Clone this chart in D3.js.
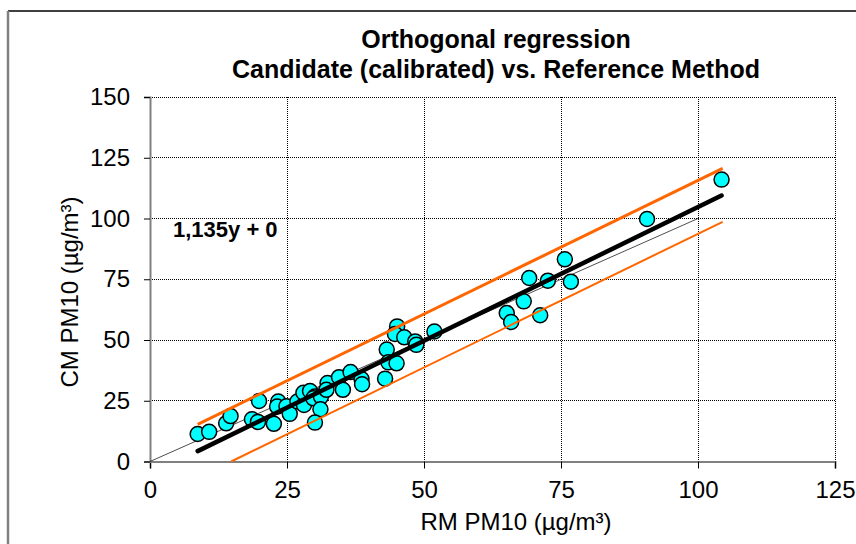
<!DOCTYPE html>
<html>
<head>
<meta charset="utf-8">
<script src="https://cdn.jsdelivr.net/npm/d3@7"></script>
<style>
  body { margin: 0; background: #fff; }
  text { font-family: "Liberation Sans", Arial, sans-serif; }
</style>
</head>
<body>
<svg id="chart"></svg>
<script>
// values
var rmValues = [8.7, 10.8, 13.9, 14.7, 18.6, 19.7, 19.9, 22.6, 23.4, 23.2, 24.9, 25.5, 26.9, 28.1, 28.0, 29.2,
                30.1, 29.8, 31.2, 31.1, 30.1, 32.4, 32.2, 34.5, 35.2, 36.6, 38.6, 38.7, 42.9, 43.2, 43.5, 45.0,
                45.1, 44.7, 46.4, 48.4, 48.6, 51.9, 65.1, 65.9, 68.2, 69.2, 71.2, 72.6, 75.7, 76.8, 90.7, 104.3];
var cmValues = [11.3, 12.2, 15.7, 18.7, 17.4, 16.3, 24.9, 15.5, 24.7, 22.6, 22.7, 19.6, 24.7, 23.3, 28.3, 29.0,
                26.7, 26.0, 26.7, 21.5, 16.0, 32.3, 29.5, 34.7, 29.5, 36.8, 33.9, 31.8, 34.1, 46.1, 40.8, 40.4,
                55.6, 52.5, 51.1, 49.4, 48.0, 53.5, 61.1, 57.4, 65.9, 75.5, 60.2, 74.4, 83.2, 74.0, 99.8, 116.0];
var xTicks = [0, 25, 50, 75, 100, 125];
var yTicks = [0, 25, 50, 75, 100, 125, 150];

var regSlope = 1.10;
var regIntercept = -5.3;
var bandOffset = 11;
var bandEndX = 104.5;
var identityEnd = 100;
var equationLabel = "1,135y + 0";

var width = 856, height = 544;
var margin = {top: 97, right: 21, bottom: 82.5, left: 150};

var svg = d3.select('#chart')
            .attr('width', width)
            .attr('height', height);

// outer chart frame
svg.append('line').attr('x1', 8).attr('x2', width).attr('y1', 11).attr('y2', 11)
   .attr('stroke', '#000').attr('stroke-width', 1.5);
svg.append('line').attr('x1', 8).attr('x2', 8).attr('y1', 11).attr('y2', height)
   .attr('stroke', '#808080').attr('stroke-width', 2.5);

var xScale = d3.scaleLinear().domain([0, 125]).range([margin.left, width - margin.right]);
var yScale = d3.scaleLinear().domain([0, 150]).range([height - margin.bottom, margin.top]);

// grid (dotted)
var grid = svg.append('g').attr('shape-rendering', 'crispEdges');
grid.selectAll('.vgrid').data(xTicks.slice(1))
    .enter().append('line')
    .attr('x1', d => xScale(d)).attr('x2', d => xScale(d))
    .attr('y1', yScale(0)).attr('y2', yScale(150))
    .attr('stroke', '#000').attr('stroke-width', 1).attr('stroke-dasharray', '1,1');
grid.selectAll('.hgrid').data(yTicks.slice(1))
    .enter().append('line')
    .attr('x1', xScale(0)).attr('x2', xScale(125))
    .attr('y1', d => yScale(d)).attr('y2', d => yScale(d))
    .attr('stroke', '#000').attr('stroke-width', 1).attr('stroke-dasharray', '1,1');

// axes
var xAxis = d3.axisBottom(xScale).tickValues(xTicks).tickSize(7).tickPadding(12);
var yAxis = d3.axisLeft(yScale).tickValues(yTicks).tickSize(6).tickPadding(14);

var gx = svg.append('g')
   .attr('transform', 'translate(0,' + yScale(0) + ')')
   .call(xAxis);
var gy = svg.append('g')
   .attr('transform', 'translate(' + xScale(0) + ',0)')
   .call(yAxis);

[gx, gy].forEach(function(g){
  g.select('.domain').attr('stroke', '#808080').attr('stroke-width', 2);
  g.selectAll('.tick line').attr('stroke', '#000').attr('stroke-width', 1);
  g.selectAll('.tick text').attr('fill', '#000')
   .style('font-family', '"Liberation Sans", Arial, sans-serif').style('font-size', '24px');
});

// 1:1 line
svg.append('line')
   .attr('x1', xScale(0)).attr('y1', yScale(0))
   .attr('x2', xScale(identityEnd)).attr('y2', yScale(identityEnd))
   .attr('stroke', '#000').attr('stroke-width', 0.7);

var xMin = d3.min(rmValues), xMax = d3.max(rmValues);
var reg = function(x){ return regSlope * x + regIntercept; };

// points
svg.selectAll('circle').data(rmValues)
   .enter().append('circle')
   .attr('cx', (d, i) => xScale(d))
   .attr('cy', (d, i) => yScale(cmValues[i]))
   .attr('r', 7.5)
   .attr('fill', '#00FFFF')
   .attr('stroke', '#000')
   .attr('stroke-width', 1.5);

// confidence band lines
svg.append('line')
   .attr('x1', xScale(xMin)).attr('y1', yScale(reg(xMin) + bandOffset))
   .attr('x2', xScale(bandEndX)).attr('y2', yScale(reg(bandEndX) + bandOffset))
   .attr('stroke', '#FF6600').attr('stroke-width', 3);
var lowStart = (bandOffset - regIntercept) / regSlope;
svg.append('line')
   .attr('x1', xScale(lowStart)).attr('y1', yScale(0))
   .attr('x2', xScale(bandEndX)).attr('y2', yScale(reg(bandEndX) - bandOffset))
   .attr('stroke', '#FF6600').attr('stroke-width', 2);

// regression line
svg.append('line')
   .attr('x1', xScale(xMin)).attr('y1', yScale(reg(xMin)))
   .attr('x2', xScale(xMax)).attr('y2', yScale(reg(xMax)))
   .attr('stroke', '#000').attr('stroke-width', 4.5).attr('stroke-linecap', 'round');

// equation
svg.append('text')
   .attr('x', 173).attr('y', 237)
   .style('font-size', '22px').style('font-weight', 'bold')
   .text(equationLabel);

// title
var title = svg.append('text').attr('text-anchor', 'middle')
   .style('font-size', '25px').style('font-weight', 'bold');
title.append('tspan').attr('x', 496).attr('y', 48).text('Orthogonal regression');
title.append('tspan').attr('x', 496).attr('y', 78).text('Candidate (calibrated) vs. Reference Method');

// axis titles
svg.append('text').attr('text-anchor', 'middle')
   .attr('x', 516).attr('y', 530)
   .style('font-size', '24px')
   .text('RM PM10 (µg/m³)');
svg.append('text').attr('text-anchor', 'middle')
   .attr('transform', 'translate(78,292) rotate(-90)')
   .style('font-size', '24px')
   .text('CM PM10 (µg/m³)');
</script>
</body>
</html>
